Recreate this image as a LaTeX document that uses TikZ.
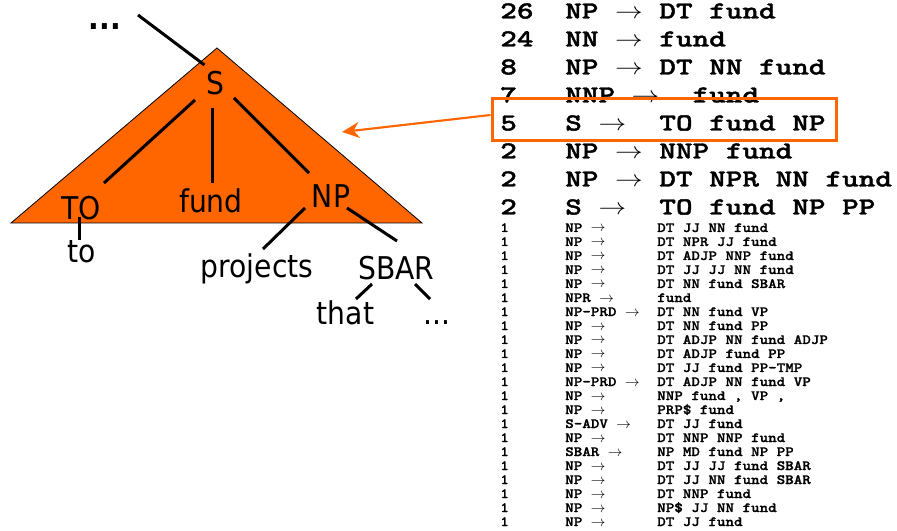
\documentclass[tikz,border=0pt]{standalone}
\usepackage{fontspec}
\newfontfamily\treefont{DejaVu Sans Condensed}
\newfontfamily\bigcode{lmmonolt10-bold.otf}[FakeStretch=1.29, FakeBold=1.5]
\newfontfamily\smallcode{lmmonolt10-bold.otf}[FakeStretch=1.15, FakeBold=1.2]
\usetikzlibrary{arrows.meta}
\definecolor{pptorange}{HTML}{FF6600}
\newcommand\bigto{\scalebox{1.2}[1]{$\rightarrow$}}

\begin{document}
\begin{tikzpicture}[x=0.75pt,y=-0.75pt]
    \tikzstyle{cat}=[inner sep=0pt, anchor=base, font=\treefont\fontsize{23.5pt}{28pt}\selectfont]
    \tikzstyle{branch}=[line width=2.25pt]
    \tikzstyle{bigrow}=[inner sep=0pt, anchor=base west, font=\bigcode\fontsize{18.4pt}{21pt}\selectfont]
    \tikzstyle{smallrow}=[inner sep=0pt, anchor=base west, font=\smallcode\fontsize{10.6pt}{14pt}\selectfont]
    \tikzstyle{hilite}=[draw=pptorange, line width=2.25pt, minimum width=258pt, minimum height=31.5pt, inner sep=0pt]
    \tikzstyle{pointer}=[draw=pptorange, line width=1.6pt, -{Stealth[length=13pt,width=12pt]}]

    \useasboundingbox (0,0) rectangle (897,531);

    % the subtree
    \draw[fill=pptorange, line width=0.6pt] (217,48) -- (11,223) -- (422,223) -- cycle;

    \node[cat, font=\treefont\bfseries\fontsize{23.5pt}{28pt}\selectfont] (above) at (105,30) {...};
    \coordinate (up) at (138,15);
    \node[cat] (S) at (215.5,95) {S};
    \node[cat] (TO) at (81,220) {TO};
    \node[cat] (fund) at (211,213) {fund};
    \node[cat] (NP) at (331,208) {NP};
    \node[cat] (to) at (81.5,263) {to};
    \node[cat] (projects) at (257,278) {projects};
    \node[cat] (SBAR) at (396.5,280) {SBAR};
    \node[cat] (that) at (345.5,325) {that};
    \node[cat] (rest) at (436.5,325) {...};

    \draw[branch] (up) -- ([shift={(-11,-30)}]S.base);
    \draw[branch] ([shift={(-20.5,5)}]S.base) -- ([shift={(23,-37)}]TO.base);
    \draw[branch] ([shift={(-3,13)}]S.base) -- ([shift={(1.5,-30)}]fund.base);
    \draw[branch] ([shift={(18.5,3)}]S.base) -- ([shift={(-22,-35)}]NP.base);
    \draw[branch] ([shift={(-2,-3)}]TO.base) -- ([shift={(-2.5,-23)}]to.base);
    \draw[branch] ([shift={(-26,0)}]NP.base) -- ([shift={(6,-29)}]projects.base);
    \draw[branch] ([shift={(16,0)}]NP.base) -- ([shift={(0.5,-39)}]SBAR.base);
    \draw[branch] ([shift={(-24.5,4)}]SBAR.base) -- ([shift={(10.5,-26)}]that.base);
    \draw[branch] ([shift={(18.5,4)}]SBAR.base) -- ([shift={(-6.5,-26)}]rest.base);

    % rule counts
    \foreach \cnt/\lhs/\rhs [count=\i from 0] in {26/NP/DT fund, 24/NN/fund, 8/NP/DT NN fund,
        7/NNP/~fund, 5/S/~TO fund NP, 2/NP/NNP fund, 2/NP/DT NPR NN fund, 2/S/~TO fund NP PP}
    {
        \node[bigrow] (c\i) at (500,{18.5+28*\i}) {\cnt};
        \node[bigrow] (r\i) at (565,{18.5+28*\i}) {\lhs~\bigto~\rhs};
    }
    \foreach \lhs/\rhs [count=\j from 0] in {NP/DT JJ NN fund, NP/DT NPR JJ fund, NP/DT ADJP NNP fund,
        NP/DT JJ JJ NN fund, NP/DT NN fund SBAR, NPR/fund, NP-PRD/DT NN fund VP, NP/DT NN fund PP,
        NP/DT ADJP NN fund ADJP, NP/DT ADJP fund PP, NP/DT JJ fund PP-TMP, NP-PRD/DT ADJP NN fund VP,
        NP/{NNP fund , VP ,}, NP/PRP\$ fund, S-ADV/DT JJ fund, NP/DT NNP NNP fund, SBAR/NP MD fund NP PP,
        NP/DT JJ JJ fund SBAR, NP/DT JJ NN fund SBAR, NP/DT NNP fund, NP/NP\$ JJ NN fund, NP/DT JJ fund}
    {
        \node[smallrow] (n\j) at (500,{232+14*\j}) {1};
        \node[smallrow] (l\j) at (565,{232+14*\j}) {\lhs~$\rightarrow$};
        \node[smallrow] (x\j) at (657,{232+14*\j}) {\rhs};
    }

    % highlighted rule
    \node[hilite] (best) at (664,120) {};
    \coordinate (tip) at (342,132);
    \draw[pointer] ([shift={(0,-5)}]best.west) -- (tip);
\end{tikzpicture}
\end{document}
